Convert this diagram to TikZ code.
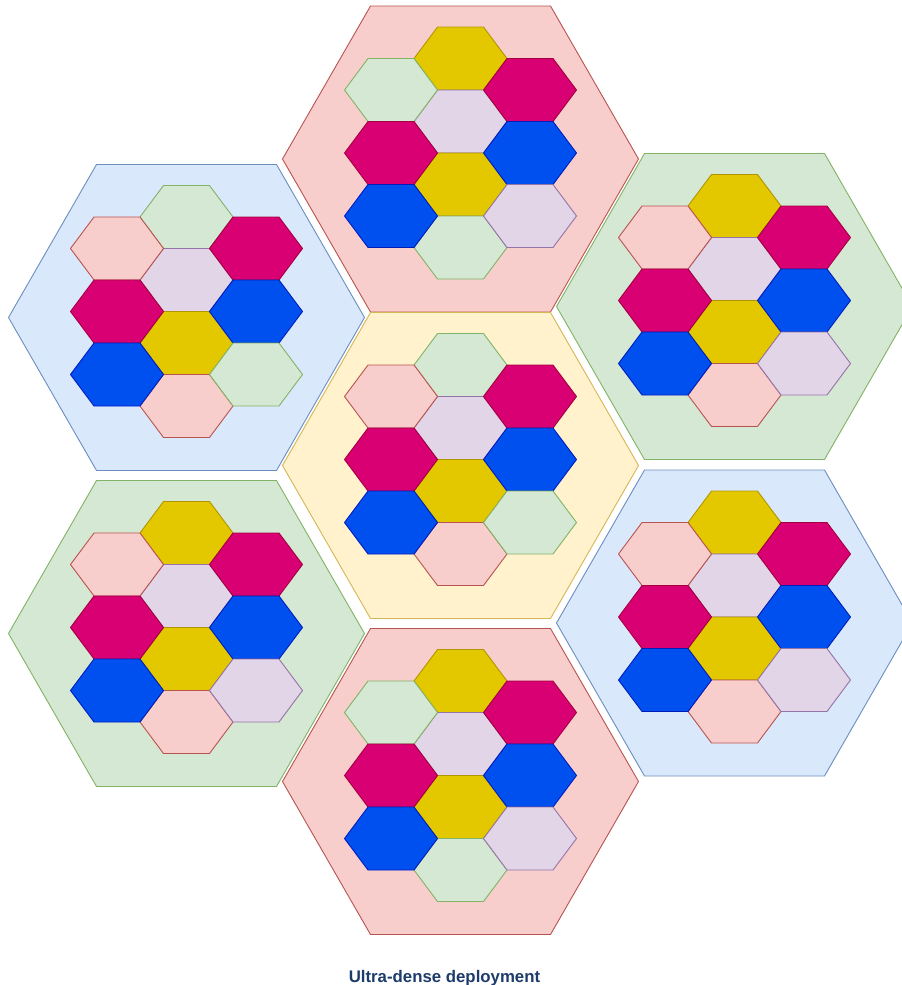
\documentclass[tikz,border=0pt]{standalone}
\usepackage{fontspec}
\setmainfont{Liberation Sans}

\definecolor{titleblue}{HTML}{1D3C6B}

\tikzset{
  spnk/.style={fill={rgb,255:red,248;green,206;blue,204}, draw={rgb,255:red,184;green,84;blue,80}},
  sblu/.style={fill={rgb,255:red,218;green,232;blue,252}, draw={rgb,255:red,108;green,142;blue,191}},
  sgrn/.style={fill={rgb,255:red,213;green,232;blue,212}, draw={rgb,255:red,130;green,179;blue,102}},
  syel/.style={fill={rgb,255:red,255;green,242;blue,204}, draw={rgb,255:red,214;green,182;blue,86}},
  cyel/.style={fill={rgb,255:red,227;green,200;blue,0}, draw={rgb,255:red,176;green,149;blue,0}},
  cmag/.style={fill={rgb,255:red,216;green,0;blue,115}, draw={rgb,255:red,165;green,0;blue,64}},
  cblu/.style={fill={rgb,255:red,0;green,80;blue,239}, draw={rgb,255:red,0;green,29;blue,188}},
  clav/.style={fill={rgb,255:red,225;green,213;blue,231}, draw={rgb,255:red,150;green,115;blue,166}},
  cgrn/.style={sgrn},
  cpnk/.style={spnk},
  % one small cell
  pics/cell/.style={code={
    \draw[#1] (-46.5,0) -- (-23,-31.5) -- (23,-31.5) -- (46.5,0) -- (23,31.5) -- (-23,31.5) -- cycle;
  }},
  % a big site with its ten cells: site, top, bottom, left top, right bottom
  pics/sector/.style n args={5}{code={
    \draw[#1] (-178,0) -- (-90,-153) -- (90,-153) -- (178,0) -- (90,153) -- (-90,153) -- cycle;
    \pic at (0,-100.5) {cell=#2};
    \pic at (0,-37.5) {cell=clav};
    \pic at (0,25.5) {cell=cyel};
    \pic at (0,88.5) {cell=#3};
    \pic at (-69.5,-69) {cell=#4};
    \pic at (-69.5,-6) {cell=cmag};
    \pic at (-69.5,57) {cell=cblu};
    \pic at (69.5,-69) {cell=cmag};
    \pic at (69.5,-6) {cell=cblu};
    \pic at (69.5,57) {cell=#5};
  }},
}

\begin{document}
\begin{tikzpicture}[x=1pt, y=-1pt, line width=0.9pt, line join=round]
  \useasboundingbox (0,0) rectangle (902,985);
  \fill[white] (0,0) rectangle (902,985);
  \clip (0,0) rectangle (902,985);

  \pic (top) at (460.5,159) {sector={spnk}{cyel}{cgrn}{cgrn}{clav}};
  \pic (ul) at (186.5,317.5) {sector={sblu}{cgrn}{cpnk}{cpnk}{cgrn}};
  \pic (ur) at (734.5,306.5) {sector={sgrn}{cyel}{cpnk}{cpnk}{clav}};
  \pic (mid) at (460.5,465.5) {sector={syel}{cgrn}{cpnk}{cpnk}{cgrn}};
  \pic (ll) at (186.5,633.5) {sector={sgrn}{cyel}{cpnk}{cpnk}{clav}};
  \pic (lr) at (734.5,623) {sector={sblu}{cyel}{cpnk}{cpnk}{clav}};
  \pic (bot) at (460.5,781.5) {sector={spnk}{cyel}{cgrn}{cgrn}{clav}};

  \node[anchor=base, inner sep=0pt, text=titleblue, font=\fontsize{16.8}{20}\selectfont\bfseries] (title) at (444.5,982.5) {Ultra-dense deployment};
\end{tikzpicture}
\end{document}
